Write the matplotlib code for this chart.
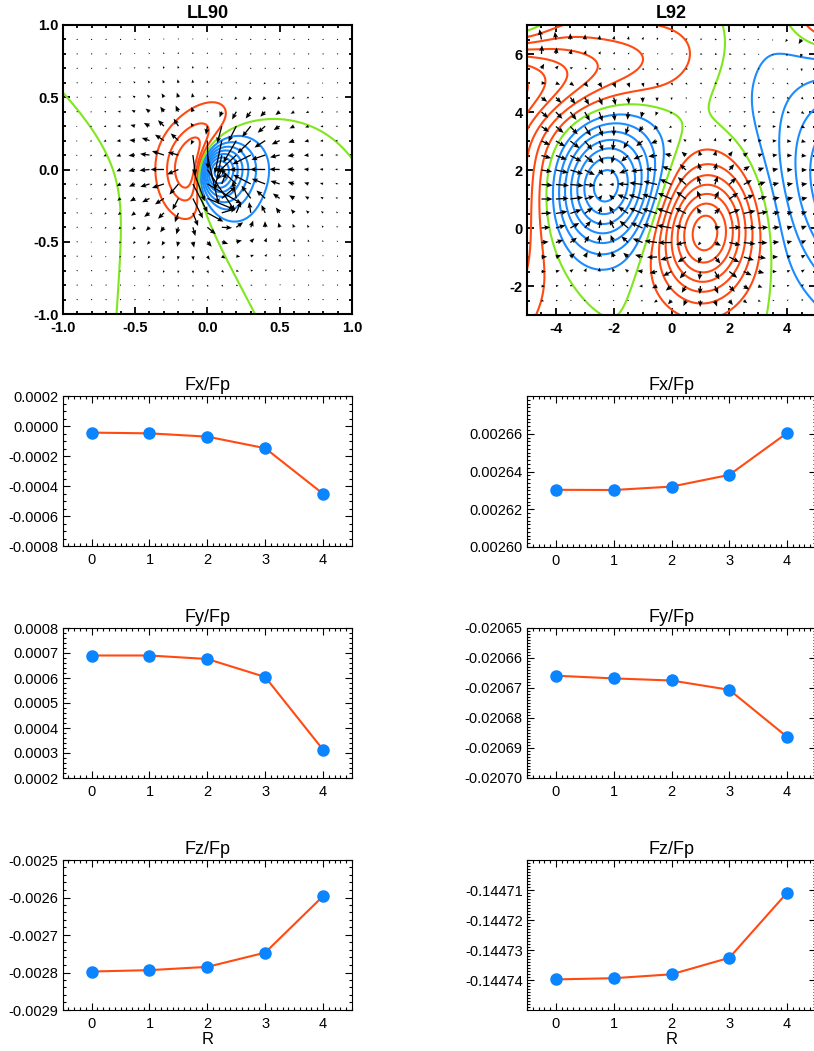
import numpy as np
import matplotlib
matplotlib.use("Agg")
import matplotlib.pyplot as plt
from matplotlib.ticker import MultipleLocator

plt.rcParams['font.family'] = ['Liberation Sans', 'DejaVu Sans']
plt.rcParams['axes.unicode_minus'] = False

RED = '#ff4a12'
BLUE = '#1a8cff'
GREEN = '#80e61e'
DOT = '#0a84ff'

# ---- force ratios ----
R = [0, 1, 2, 3, 4]
ll90_fx = [-0.000044, -0.000049, -0.000071, -0.000148, -0.000452]
ll90_fy = [0.000690, 0.000690, 0.000676, 0.000604, 0.000313]
ll90_fz = [-0.0027974, -0.0027937, -0.0027850, -0.0027470, -0.0025963]
l92_fx = [0.0026303, 0.0026302, 0.0026320, 0.0026382, 0.0026604]
l92_fy = [-0.0206659, -0.0206668, -0.0206675, -0.0206706, -0.0206863]
l92_fz = [-0.1447398, -0.1447394, -0.1447381, -0.1447326, -0.1447109]

# y tick values of the lower panels
ll90_fx_ticks = [-0.0008, -0.0006, -0.0004, -0.0002, 0.0, 0.0002]
ll90_fy_ticks = [0.0002, 0.0003, 0.0004, 0.0005, 0.0006, 0.0007, 0.0008]
ll90_fz_ticks = [-0.0029, -0.0028, -0.0027, -0.0026, -0.0025]
l92_fx_ticks = [0.00260, 0.00262, 0.00264, 0.00266]
l92_fy_ticks = [-0.02070, -0.02069, -0.02068, -0.02067, -0.02066, -0.02065]
l92_fz_ticks = [-0.14474, -0.14473, -0.14472, -0.14471]

# ---- LL90 (Low & Lou 1990) parameters ----
LL_N = 1
LL_L = 0.3
LL_PHI = np.pi / 4
LL_A2_GUESS = 0.425

# ---- L92 map: magnetogram blobs ----
L92_CX = [1.15, -2.3, -5.5, -7.2, 6.6, 5.6, -5.8, 2.8]
L92_CY = [-0.15, 1.45, 5.0, 1.8, 1.2, 7.6, 7.8, 6.2]
L92_AMP = [1.0, -1.0, 0.52, 0.9, -0.8, 0.45, -0.7, -0.1]
L92_SX = [1.1, 1.2, 4.0, 1.8, 1.8, 0.9, 1.0, 1.2]
L92_SY = [1.5, 1.5, 1.1, 3.5, 2.8, 0.9, 1.0, 1.6]
L92_ANG = [-5, -12, 10, 0, 20, 0, 0, 0]


def shoot(a2, mu, n):
    a2 = np.asarray(a2, float)
    P = np.full(a2.shape, 10.0 * (mu[0] + 1))
    D = np.full(a2.shape, 10.0)
    Ps, Ds = [P], [D]

    def rhs(m, P, D):
        return D, -(n * (n + 1) * P + a2 * (1 + n) / n * np.sign(P) * np.abs(P) ** (1 + 2 / n)) / (1 - m * m)

    for i in range(len(mu) - 1):
        h = mu[i + 1] - mu[i]
        m = mu[i]
        k1p, k1d = rhs(m, P, D)
        k2p, k2d = rhs(m + h / 2, P + h / 2 * k1p, D + h / 2 * k1d)
        k3p, k3d = rhs(m + h / 2, P + h / 2 * k2p, D + h / 2 * k2d)
        k4p, k4d = rhs(m + h, P + h * k3p, D + h * k3d)
        P = P + h / 6 * (k1p + 2 * k2p + 2 * k3p + k4p)
        D = D + h / 6 * (k1d + 2 * k2d + 2 * k3d + k4d)
        Ps.append(P)
        Ds.append(D)
    return np.array(Ps), np.array(Ds)


def lowlou_profile(n, guess):
    mu = np.linspace(-1 + 1e-6, 1 - 1e-6, 3001)
    lo, hi = 0.02, 1.5
    with np.errstate(all='ignore'):
        for it in range(4):
            a2s = np.linspace(lo, hi, 120)
            end = shoot(a2s, mu, n)[0][-1]
            ok = np.isfinite(end[:-1]) & np.isfinite(end[1:]) & (end[:-1] * end[1:] < 0)
            idx = np.where(ok)[0]
            if len(idx) == 0:
                break
            j = idx[np.argmin(np.abs(a2s[idx] - guess))]
            lo, hi = a2s[j], a2s[j + 1]
            guess = 0.5 * (lo + hi)
        P, D = shoot([guess], mu, n)
    return mu, P[:, 0], D[:, 0], guess


def ll90_field(x, y, mu_t, P_t, D_t, a, n=LL_N, l=LL_L, phi=LL_PHI):
    c, s = np.cos(phi), np.sin(phi)
    X = x * c - l * s
    Y = y
    Z = x * s + l * c
    r = np.sqrt(X ** 2 + Y ** 2 + Z ** 2)
    mu = np.clip(Z / r, mu_t[0], mu_t[-1])
    st = np.maximum(np.sqrt(1 - mu ** 2), 1e-9)
    ph = np.arctan2(Y, X)
    P = np.interp(mu, mu_t, P_t)
    dP = np.interp(mu, mu_t, D_t)
    rn = r ** (n + 2)
    Br = -dP / rn
    Bt = n * P / (rn * st)
    Bp = a * np.abs(P) ** (1 + 1 / n) / (rn * st)
    Bs = Br * st + Bt * mu
    BX = Bs * np.cos(ph) - Bp * np.sin(ph)
    BY = Bs * np.sin(ph) + Bp * np.cos(ph)
    BZ = Br * mu - Bt * st
    return BX * c + BZ * s, BY, -BX * s + BZ * c


def l92_bz(x, y):
    bz = np.zeros_like(x, dtype=float)
    for cx, cy, a, sx, sy, ang in zip(L92_CX, L92_CY, L92_AMP, L92_SX, L92_SY, L92_ANG):
        t = np.deg2rad(ang)
        u = (x - cx) * np.cos(t) + (y - cy) * np.sin(t)
        v = -(x - cx) * np.sin(t) + (y - cy) * np.cos(t)
        bz += a * np.exp(-0.5 * ((u / sx) ** 2 + (v / sy) ** 2))
    return bz


def draw_bz(ax, X, Y, bz, step, npos, nneg):
    kw = dict(linewidths=1.5, linestyles='solid')
    ax.contour(X, Y, bz, levels=step * np.arange(1, npos + 1), colors=RED, **kw)
    ax.contour(X, Y, bz, levels=-step * np.arange(nneg, 0, -1), colors=BLUE, **kw)
    ax.contour(X, Y, bz, levels=[0], colors=GREEN, **kw)


def draw_arrows(ax, X, Y, u, v, maxlen):
    mag = np.hypot(u, v)
    ax.quiver(X, Y, u, v, angles='xy', scale_units='xy', scale=mag.max() / maxlen,
              width=0.0045, headwidth=3.8, headlength=4.5, headaxislength=4, color='k', zorder=3)


def style_map(ax, lim_x, lim_y, major, minor, fmt):
    ax.set_xlim(*lim_x)
    ax.set_ylim(*lim_y)
    xt = np.arange(np.ceil(lim_x[0] / major) * major, lim_x[1] + 1e-9, major)
    yt = np.arange(np.ceil(lim_y[0] / major) * major, lim_y[1] + 1e-9, major)
    ax.set_xticks(xt, [fmt % v for v in xt], fontweight='bold', fontsize=10.5)
    ax.set_yticks(yt, [fmt % v for v in yt], fontweight='bold', fontsize=10.5)
    ax.xaxis.set_minor_locator(MultipleLocator(minor))
    ax.yaxis.set_minor_locator(MultipleLocator(minor))
    ax.tick_params(which='both', direction='in', top=True, right=True, width=1.3)
    ax.tick_params(which='major', length=5)
    ax.tick_params(which='minor', length=2.5)
    ax.tick_params(axis='x', pad=5)
    ax.tick_params(axis='y', pad=3)
    for sp in ax.spines.values():
        sp.set_linewidth(1.5)


W, H = 814, 1051
fig = plt.figure(figsize=(W / 100, H / 100), dpi=100)


def px_axes(left, top, right, bottom):
    return fig.add_axes([left / W, 1 - bottom / H, (right - left) / W, (bottom - top) / H])


# ---------------- LL90 map ----------------
mu_t, P_t, D_t, a2 = lowlou_profile(LL_N, LL_A2_GUESS)
a_ll = np.sqrt(a2)
ax = px_axes(62.7, 25, 352, 314)
g = np.linspace(-1, 1, 301)
GX, GY = np.meshgrid(g, g)
bx, by, bz = ll90_field(GX, GY, mu_t, P_t, D_t, a_ll)
draw_bz(ax, GX, GY, bz, bz.max() / 4.3, 3, 16)
qa = np.round(np.arange(-0.9, 0.91, 0.1), 2)
QX, QY = np.meshgrid(qa, qa)
qbx, qby, _ = ll90_field(QX, QY, mu_t, P_t, D_t, a_ll)
draw_arrows(ax, QX, QY, qbx, qby, 0.35)
style_map(ax, (-1, 1), (-1, 1), 0.5, 0.1, '%.1f')
ax.set_title('LL90', fontsize=13, fontweight='bold', pad=5)

# ---------------- L92 map ----------------
ax = px_axes(527, 25, 816, 315)
gx = np.linspace(-5, 5, 301)
gy = np.linspace(-3, 7, 301)
GX, GY = np.meshgrid(gx, gy)
draw_bz(ax, GX, GY, l92_bz(GX, GY), 0.13, 8, 8)
QX, QY = np.meshgrid(np.arange(-4.5, 4.51, 0.5), np.arange(-2.5, 6.51, 0.5))
h = 1e-3
qbx = -(l92_bz(QX + h, QY) - l92_bz(QX - h, QY)) / (2 * h)
qby = -(l92_bz(QX, QY + h) - l92_bz(QX, QY - h)) / (2 * h)
draw_arrows(ax, QX, QY, qbx, qby, 0.55)
style_map(ax, (-5, 5), (-3, 7), 2, 0.5, '%d')
ax.set_title('L92', fontsize=13, fontweight='bold', pad=5)

# ---------------- line panels ----------------
panels = [
    (ll90_fx, 'Fx/Fp', (62.7, 396, 352, 546), (-0.0008, 0.0002), ll90_fx_ticks, '%.4f', 4),
    (l92_fx, 'Fx/Fp', (527, 396, 816, 547), (0.00260, 0.00268), l92_fx_ticks, '%.5f', 10),
    (ll90_fy, 'Fy/Fp', (62.7, 628, 352, 778), (0.0002, 0.0008), ll90_fy_ticks, '%.4f', 5),
    (l92_fy, 'Fy/Fp', (527, 628, 816, 778), (-0.02070, -0.02065), l92_fy_ticks, '%.5f', 10),
    (ll90_fz, 'Fz/Fp', (62.7, 860, 352, 1010), (-0.0029, -0.0025), ll90_fz_ticks, '%.4f', 5),
    (l92_fz, 'Fz/Fp', (527, 860, 816, 1010), (-0.14475, -0.14470), l92_fz_ticks, '%.5f', 10),
]
for i, (vals, title, box, ylim, yt, fmt, nminor) in enumerate(panels):
    ax = px_axes(*box)
    ax.plot(R, vals, color=RED, lw=1.5, zorder=2)
    ax.plot(R, vals, 'o', color=DOT, ms=8, zorder=3)
    ax.set_xlim(-0.5, 4.5)
    ax.set_xticks(R)
    ax.set_yticks(yt, [fmt % v for v in yt])
    ax.yaxis.set_minor_locator(MultipleLocator((yt[1] - yt[0]) / nminor))
    ax.xaxis.set_minor_locator(MultipleLocator(0.1))
    ax.set_ylim(*ylim)
    ax.tick_params(which='both', direction='in', top=True, right=True, labelsize=10.5, width=0.8)
    ax.tick_params(which='major', length=5)
    ax.tick_params(which='minor', length=2)
    ax.tick_params(axis='x', pad=5)
    ax.tick_params(axis='y', pad=3)
    ax.set_title(title, fontsize=13, pad=4)
    if i >= 4:
        ax.set_xlabel('R', fontsize=12, labelpad=1)

fig.savefig('out.png', dpi=100)
